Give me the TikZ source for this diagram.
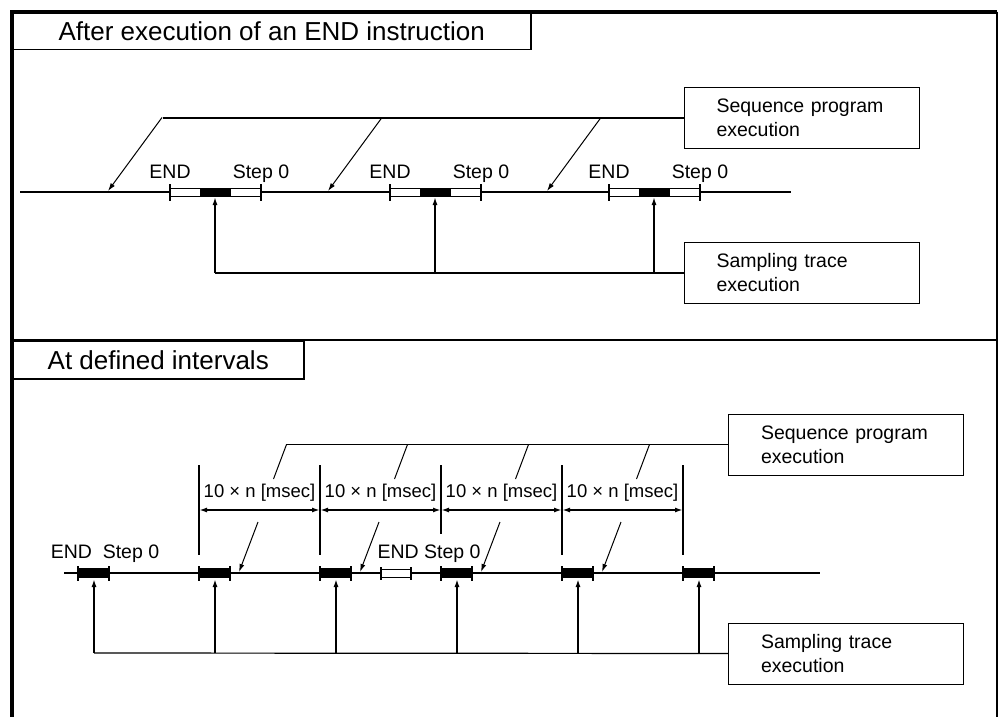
\documentclass[tikz,border=0pt]{standalone}
\usepackage{fontspec}
\setmainfont{Liberation Sans}
\usetikzlibrary{arrows.meta}

\begin{document}
\begin{tikzpicture}[x=1pt,y=-1pt,
  txt/.style={font=\fontsize{19.5}{24}\selectfont, inner sep=0pt, anchor=base},
  dimtxt/.style={font=\fontsize{18.5}{22}\selectfont, inner sep=0pt, anchor=base},
  title/.style={draw=black, line width=1.5pt, font=\fontsize{26}{30}\selectfont, inner sep=0pt, anchor=north west},
  note/.style={draw=black, line width=1pt, minimum width=235pt, minimum height=61pt, text width=170pt, align=left, inner sep=0pt, font=\fontsize{19.5}{24}\selectfont},
  tip/.style={-{Latex[length=8pt,width=5pt]}},
  dim/.style={{Latex[length=8pt,width=5pt]}-{Latex[length=8pt,width=5pt]}, line width=2pt},
  tline/.style={line width=2pt},
  slant/.style={line width=1pt}]
\useasboundingbox (0,0) rectangle (1001,717);

% frame
\draw[line width=3.5pt] (12,717) -- (12,12) -- (997,12);
\draw[line width=1.5pt] (997,12) -- (997,717);
\draw[line width=2.5pt] (12,340) -- (997,340);
\node[title, minimum width=518pt, minimum height=37pt] (ttlA) at (12,12) {After execution of an END instruction};
\node[title, minimum width=291pt, minimum height=38pt] (ttlB) at (12,340) {At defined intervals};

% after END
\node[note] (seqA) at (801.5,117.5) {Sequence program\\execution};
\node[note] (smpA) at (801.5,273) {Sampling trace\\execution};
\coordinate (seqAend) at (163,117.5);
\coordinate (tlA0) at (20,192);
\coordinate (tlA1) at (791,192);
\draw[tline] (seqA.west) -- (seqAend);
\draw[tline] (tlA0) -- (tlA1);
\foreach \x [count=\i] in {170,390,609} {
  \draw[fill=white, line width=1pt] (\x,188) rectangle (\x+91,196);
  \fill (\x+30,188) rectangle (\x+61,196);
  \draw[line width=1.5pt] (\x,184) -- (\x,201) (\x+91,184) -- (\x+91,201);
  \node[txt] (endA\i) at (\x,178) {END};
  \node[txt] (stepA\i) at (\x+91,178) {Step 0};
  \coordinate (hitA\i) at (\x-62,191);
  \draw[slant, tip] (\x-8,117.5) -- (hitA\i);
  \coordinate (trgA\i) at (\x+45,197);
  \draw[line width=1.5pt, tip] (\x+45,273) -- (trgA\i);
}
\draw[line width=1.5pt] (215,273) -- (smpA.west);

% defined intervals
\node[note] (seqB) at (846,444.5) {Sequence program\\execution};
\node[note] (smpB) at (846,653.5) {Sampling trace\\execution};
\coordinate (seqBend) at (286,444.5);
\coordinate (tlB0) at (64,573);
\coordinate (tlB1) at (820,573);
\draw[slant] (seqB.west) -- (seqBend);
\draw[tline] (tlB0) -- (tlB1);
\foreach \b [count=\i] in {78,199,320,441,562,683} {
  \fill (\b,568) rectangle (\b+31,578);
  \draw[line width=1.5pt] (\b,566) -- (\b,581) (\b+31,566) -- (\b+31,581);
  \coordinate (trgB\i) at (\b+16,579);
  \draw[line width=2pt, tip] (\b+16,653) -- (trgB\i);
}
\draw[line width=1.2pt] (94,653) -- (smpB.west);
\draw[fill=white, line width=1pt] (381,569) rectangle (411,577);
\draw[line width=1.2pt] (381,567) -- (381,580) (411,567) -- (411,580);
\node[txt] (endB1) at (105,558) {END\ \ Step 0};
\node[txt] (endB2) at (429,558) {END Step 0};
\foreach \a in {199,320,562,683}
  \draw[line width=2pt] (\a,465) -- (\a,555);
\draw[line width=2pt] (441,465) -- (441,534);
\foreach \a/\b [count=\i] in {199/320,320/441,441/562,562/683} {
  \draw[dim] (\a,510) -- (\b,510);
  \node[dimtxt] (msec\i) at ({(\a+\b)/2},497) {10 × n [msec]};
  \draw[slant] ({(\a+\b)/2+27},444.5) -- ({(\a+\b)/2+14},479);
}
\foreach \b [count=\i] in {199,320,441,562} {
  \coordinate (hitB\i) at (\b+40,572);
  \draw[slant, tip] (\b+59,522) -- (hitB\i);
}
\end{tikzpicture}
\end{document}
